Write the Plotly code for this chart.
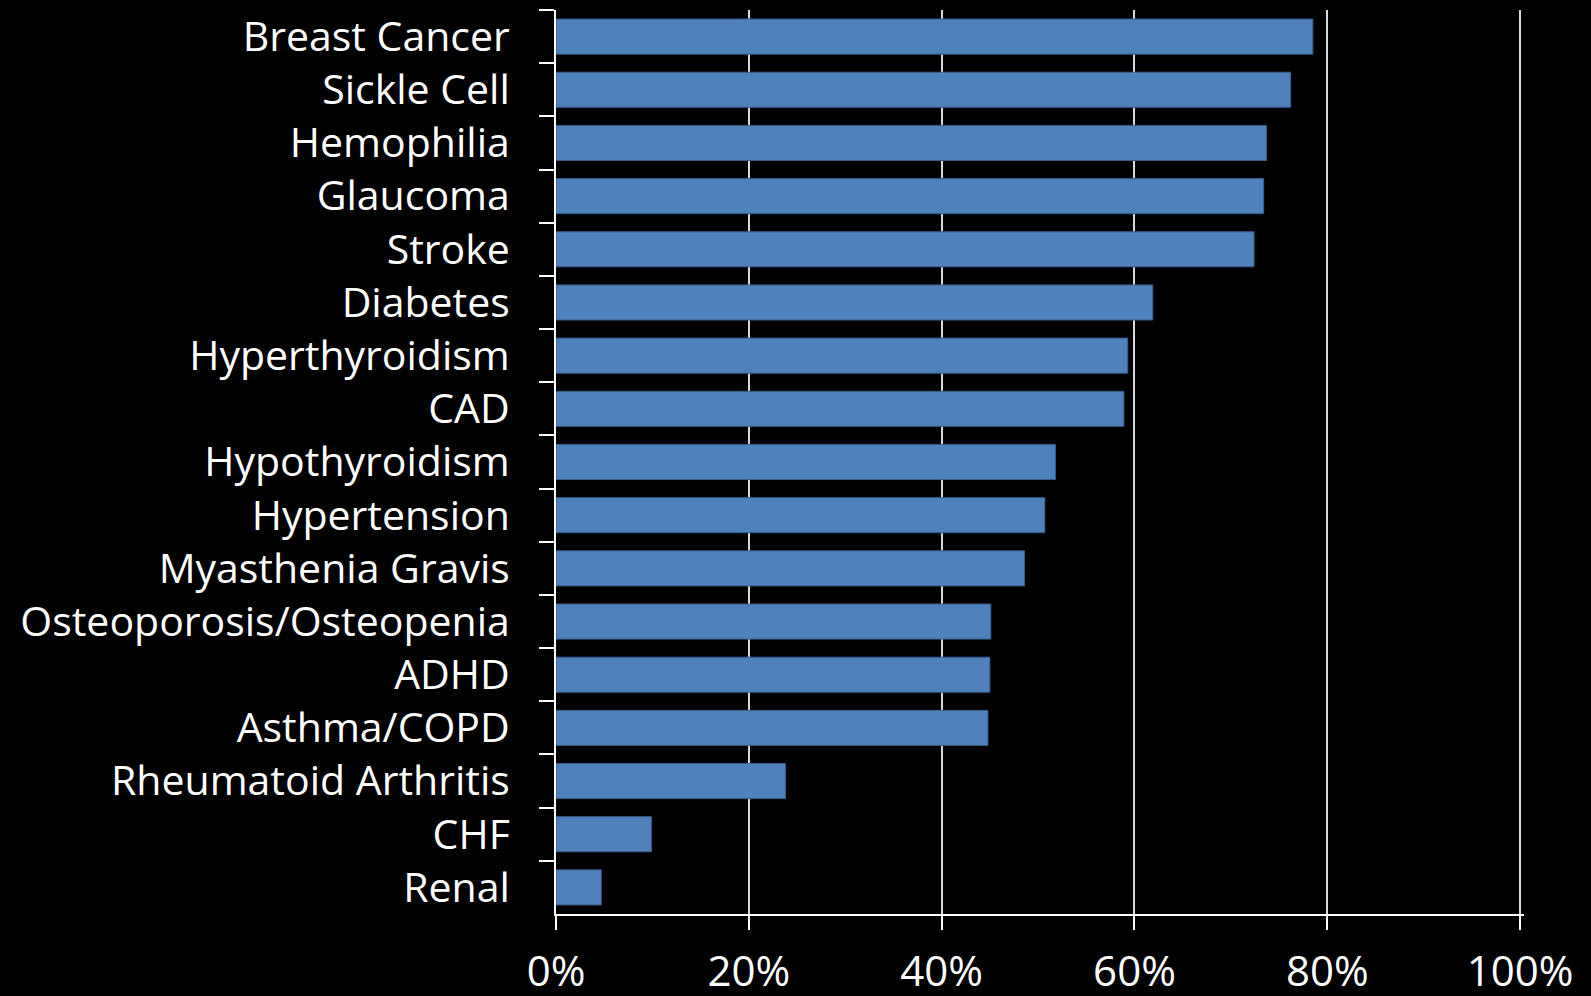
import plotly.graph_objects as go

categories = [
    "Breast Cancer", "Sickle Cell", "Hemophilia", "Glaucoma", "Stroke",
    "Diabetes", "Hyperthyroidism", "CAD", "Hypothyroidism", "Hypertension",
    "Myasthenia Gravis", "Osteoporosis/Osteopenia", "ADHD", "Asthma/COPD",
    "Rheumatoid Arthritis", "CHF", "Renal",
]
values = [
    0.785, 0.762, 0.737, 0.734, 0.724,
    0.619, 0.593, 0.589, 0.518, 0.507,
    0.486, 0.451, 0.450, 0.448,
    0.238, 0.099, 0.047,
]
x_tickvals = [0, 0.2, 0.4, 0.6, 0.8, 1.0]
x_ticktext = ["0%", "20%", "40%", "60%", "80%", "100%"]

fig = go.Figure(
    go.Bar(
        x=values,
        y=categories,
        orientation="h",
        marker=dict(color="#4F81BD", line=dict(color="#385D8A", width=1)),
    )
)

fig.update_layout(
    width=1591,
    height=996,
    paper_bgcolor="black",
    plot_bgcolor="black",
    margin=dict(l=556, r=67, t=10, b=82),
    bargap=0.34,
    showlegend=False,
    font=dict(family="Open Sans", color="white"),
)

fig.update_xaxes(
    range=[0, 1.004],
    tickvals=x_tickvals,
    ticktext=x_ticktext,
    showgrid=True,
    gridcolor="#D9D9D9",
    gridwidth=2,
    zeroline=False,
    showline=True,
    linecolor="white",
    linewidth=2,
    ticks="outside",
    ticklen=14,
    tickwidth=2,
    tickcolor="white",
    tickfont=dict(size=42, color="white", family="Open Sans"),
    ticklabelstandoff=6,
    automargin=False,
)

fig.update_yaxes(
    type="category",
    categoryorder="array",
    categoryarray=categories,
    range=[len(categories) - 0.5, -0.5],
    showgrid=False,
    zeroline=False,
    showline=True,
    linecolor="white",
    linewidth=2,
    ticks="outside",
    tickson="boundaries",
    ticklen=15,
    tickwidth=2,
    tickcolor="white",
    tickfont=dict(size=41, color="white", family="Open Sans"),
    ticklabelstandoff=36,
    automargin=False,
)

fig.write_html(
    "out.html",
    config={"displayModeBar": False},
    post_script="document.body.style.margin='0';document.body.style.background='black';",
)
